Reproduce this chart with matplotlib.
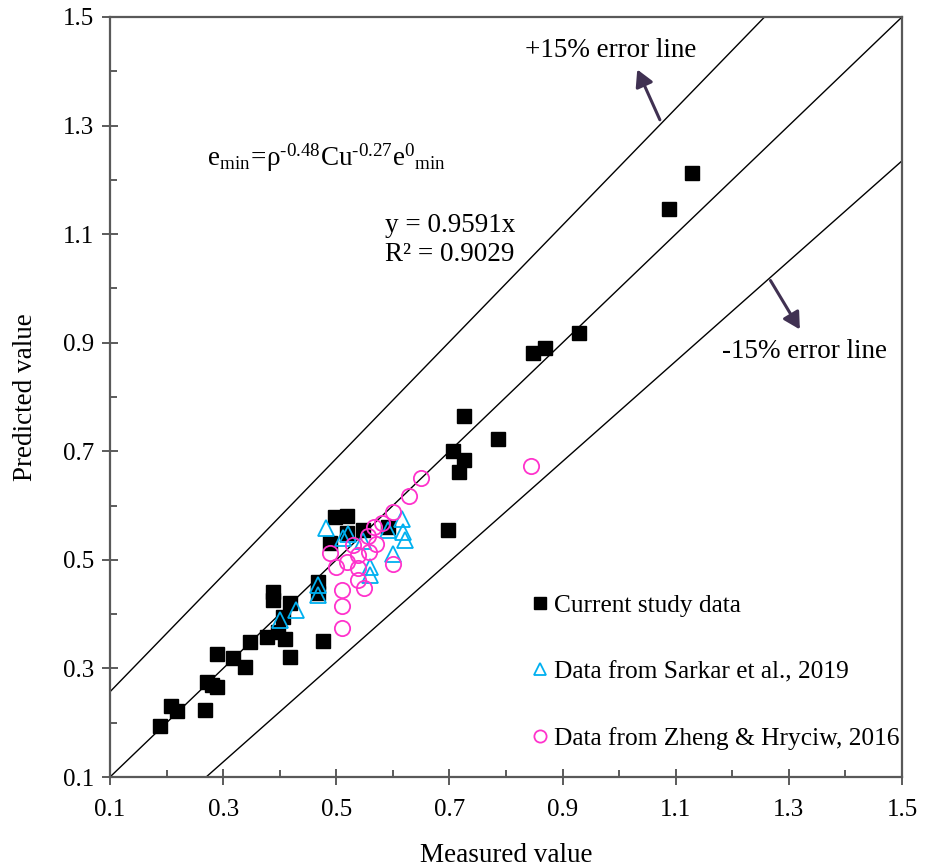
import numpy as np
from matplotlib import pyplot as plt
from matplotlib.ticker import FixedLocator, FormatStrFormatter

plt.rcParams['font.family'] = ['Liberation Serif', 'DejaVu Serif']
plt.rcParams['mathtext.fontset'] = 'custom'
plt.rcParams['mathtext.rm'] = 'Liberation Serif'
plt.rcParams['mathtext.it'] = 'Liberation Serif:italic'

# current study data (measured, predicted)
cur_x = [0.188, 0.208, 0.218, 0.268, 0.271, 0.280, 0.289, 0.289, 0.317, 0.339,
         0.347, 0.378, 0.388, 0.388, 0.397, 0.406, 0.409, 0.418, 0.418, 0.468,
         0.468, 0.477, 0.489, 0.498, 0.519, 0.519, 0.547, 0.591, 0.698, 0.706,
         0.717, 0.726, 0.726, 0.786, 0.848, 0.869, 0.929, 1.088, 1.129]
cur_y = [0.194, 0.231, 0.222, 0.223, 0.275, 0.269, 0.266, 0.327, 0.319, 0.303,
         0.349, 0.358, 0.441, 0.426, 0.367, 0.395, 0.354, 0.420, 0.321, 0.459,
         0.439, 0.350, 0.531, 0.579, 0.581, 0.549, 0.555, 0.561, 0.555, 0.701,
         0.662, 0.684, 0.765, 0.723, 0.881, 0.890, 0.918, 1.146, 1.213]

# Sarkar et al., 2019
sar_x = [0.400, 0.429, 0.468, 0.468, 0.482, 0.512, 0.520, 0.547, 0.560, 0.560,
         0.591, 0.600, 0.616, 0.618, 0.621]
sar_y = [0.389, 0.408, 0.454, 0.435, 0.559, 0.540, 0.548, 0.535, 0.487, 0.472,
         0.555, 0.511, 0.575, 0.551, 0.537]

# Zheng & Hryciw, 2016
zh_x = [0.489, 0.500, 0.510, 0.510, 0.510, 0.519, 0.530, 0.538, 0.538, 0.538,
        0.549, 0.556, 0.558, 0.567, 0.570, 0.581, 0.600, 0.600, 0.629, 0.650,
        0.844]
zh_y = [0.513, 0.487, 0.444, 0.415, 0.374, 0.496, 0.527, 0.509, 0.485, 0.463,
        0.448, 0.544, 0.514, 0.561, 0.529, 0.568, 0.588, 0.492, 0.618, 0.650,
        0.673]

# reference lines (end points)
line_mid_x = [0.1, 1.5]
line_mid_y = [0.1, 1.5]
line_up_x = [0.1, 1.257]
line_up_y = [0.257, 1.5]
line_lo_x = [0.270, 1.5]
line_lo_y = [0.1, 1.235]

major_ticks = [0.1, 0.3, 0.5, 0.7, 0.9, 1.1, 1.3, 1.5]
minor_ticks = [0.2, 0.4, 0.6, 0.8, 1.0, 1.2, 1.4]

fig = plt.figure(figsize=(9.32, 8.66), dpi=100)
ax = fig.add_axes([110 / 932, 1 - 777 / 866, 792 / 932, 760 / 866])

fs = 19.5
for lx, ly in [(line_mid_x, line_mid_y), (line_up_x, line_up_y), (line_lo_x, line_lo_y)]:
    ax.plot(lx, ly, color='black', lw=1.0, zorder=1)

ax.plot(cur_x, cur_y, 's', color='black', ms=10, ls='none', zorder=3,
        label='Current study data')
ax.plot(sar_x, sar_y, '^', mfc='none', mec='#00B0F0', mew=1.3, ms=11, ls='none',
        zorder=4, label='Data from Sarkar et al., 2019')
ax.plot(zh_x, zh_y, 'o', mfc='none', mec='#FF33CC', mew=1.3, ms=11, ls='none',
        zorder=5, label='Data from Zheng & Hryciw, 2016')

ax.set_xlim(0.1, 1.5)
ax.set_ylim(0.1, 1.5)
for axis in (ax.xaxis, ax.yaxis):
    axis.set_major_locator(FixedLocator(major_ticks))
    axis.set_minor_locator(FixedLocator(minor_ticks))
    axis.set_major_formatter(FormatStrFormatter('%.1f'))
ax.tick_params(which='major', direction='inout', length=11, width=1.2,
               labelsize=18, color='#404040')
ax.tick_params(which='minor', direction='in', length=5, width=1.2, color='#404040')
ax.tick_params(axis='x', pad=10)
ax.tick_params(axis='y', pad=6)
for s in ax.spines.values():
    s.set_color('#595959')
    s.set_linewidth(1.6)

ax.set_xlabel('Measured value', fontsize=fs, labelpad=16)
ax.set_ylabel('Predicted value', fontsize=fs, labelpad=18)

ax.text(0.834, 1.439, '+15% error line', fontsize=fs, va='center', ha='left')
ax.text(1.182, 0.883, '-15% error line', fontsize=fs, va='center', ha='left')
ax.text(0.271, 1.227,
        r'$\mathrm{e_{min}\!=\!ρ^{\text{-0.48}}Cu^{\text{-0.27}}e^{0}{}_{min}}$',
        fontsize=fs, va='baseline', ha='left')
ax.text(0.586, 1.115, 'y = 0.9591x', fontsize=fs, va='center', ha='left')
ax.text(0.586, 1.063, 'R² = 0.9029', fontsize=fs, va='center', ha='left')

arrow = dict(arrowstyle='-|>,head_length=1.0,head_width=0.55', color='#403152', lw=2.2)
ax.annotate('', xy=(1.030, 1.408), xytext=(1.074, 1.306), arrowprops=arrow)
ax.annotate('', xy=(1.322, 0.920), xytext=(1.265, 1.019), arrowprops=arrow)

ax.legend(loc='upper left', bbox_to_anchor=(0.533, 0.241), frameon=False,
          fontsize=18.3, handlelength=0.6, handletextpad=0.25, borderpad=0,
          labelspacing=1.72, markerscale=0.8, borderaxespad=0)

fig.savefig('out.png', dpi=100)
